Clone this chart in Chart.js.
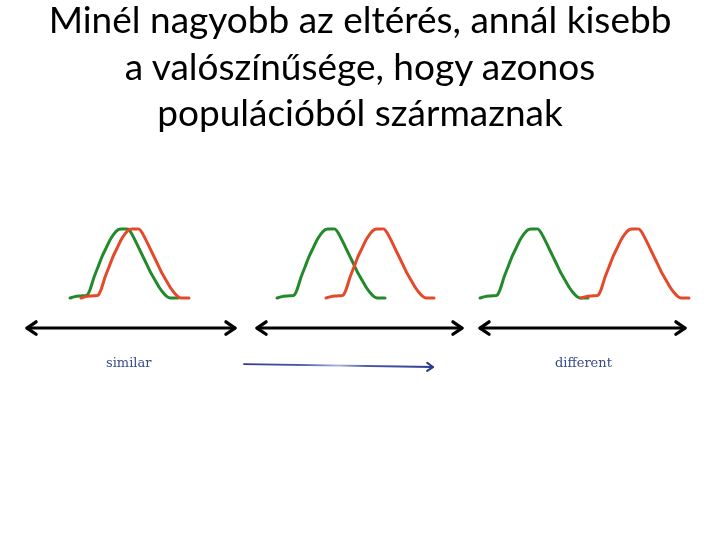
<!DOCTYPE html>
<html><head><meta charset="utf-8">
<script src="https://cdn.jsdelivr.net/npm/chart.js@4"></script>
<style>
html,body{margin:0;padding:0;background:#fff;}
#wrap{position:relative;width:720px;height:540px;overflow:hidden;background:#fff}
#title{position:absolute;left:0;top:-4px;width:720px;text-align:center;font-family:Lato,'Open Sans',sans-serif;font-size:37px;line-height:46.5px;color:#000;z-index:2}
#chart{position:absolute;left:0;top:0}
.lbl{position:absolute;font-family:'DejaVu Serif',serif;font-size:13px;line-height:15px;color:#3b4a8c;z-index:2;white-space:nowrap}
</style></head>
<body><div id="wrap">
<div id="title">Minél nagyobb az eltérés, annál kisebb<br>a valószínűsége, hogy azonos<br>populációból származnak</div>
<canvas id="chart" width="720" height="540"></canvas>
<div class="lbl" style="left:106px;top:355px">similar</div>
<div class="lbl" style="left:555px;top:355px">different</div>
</div>
<script>
// Bell-shaped hand-drawn profile (relative x, height 0..1)
const profileX = [0,5,11,17,20,24,28,32,36,40,44,48,51,54,58,61,65,69,73,77,81,85,89,93,97,100,104,108];
const profileY = [0,0.02,0.03,0.04,0.12,0.3,0.45,0.6,0.72,0.84,0.93,0.99,1,1,1,0.95,0.84,0.72,0.6,0.48,0.36,0.26,0.16,0.08,0.02,0,0,0];
// start positions of each distribution (panel: similar, overlapping, different)
const greenStarts = [70, 277, 480];
const redStarts = [81, 326, 581];
// double-headed axis arrows under each panel
const axisFrom = [27, 257, 480];
const axisTo = [235, 462, 685];
const axisLevel = -0.435;
// blue direction arrow
const blueFrom = [244, -0.957];
const blueTo = [433, -1.0];

const GREEN = '#238a2c';
const RED = '#e5492b';

function curve(start){
  return profileX.map((x,i)=>({x:start+x, y:profileY[i]}));
}
const datasets = [];
redStarts.forEach(s=>datasets.push({data:curve(s),borderColor:RED,borderWidth:3,pointRadius:0,tension:0.15,showLine:true,fill:false}));
greenStarts.forEach(s=>datasets.push({data:curve(s),borderColor:GREEN,borderWidth:3,pointRadius:0,tension:0.15,showLine:true,fill:false}));
axisFrom.forEach((f,i)=>datasets.push({data:[{x:f,y:axisLevel},{x:axisTo[i],y:axisLevel}],borderColor:'#000',borderWidth:3,pointRadius:0,showLine:true,arrowStart:true,arrowEnd:true,headLen:11,headColor:'#000'}));
datasets.push({data:[{x:blueFrom[0],y:blueFrom[1]},{x:blueTo[0],y:blueTo[1]}],
  borderColor:(ctx)=>{const c=ctx.chart; if(!c.chartArea) return '#3344a0';
    const xs=c.scales.x; const g=c.ctx.createLinearGradient(xs.getPixelForValue(blueFrom[0]),0,xs.getPixelForValue(blueTo[0]),0);
    g.addColorStop(0,'#2c3a94');g.addColorStop(0.3,'#4a58a8');g.addColorStop(0.5,'#a9b2da');g.addColorStop(0.65,'#4a58a8');g.addColorStop(1,'#2c3a94');return g;},
  borderWidth:1.8,pointRadius:0,showLine:true,arrowEnd:true,headLen:7,headColor:'#2c3a94'});

const arrowPlugin = {id:'arrowheads', afterDatasetsDraw(chart){
  const ctx = chart.ctx;
  chart.data.datasets.forEach((ds,i)=>{
    if(!ds.arrowStart && !ds.arrowEnd) return;
    const pts = chart.getDatasetMeta(i).data;
    const L = ds.headLen, a = 0.6;
    const draw=(tip,prev)=>{
      const ang = Math.atan2(tip.y-prev.y, tip.x-prev.x);
      ctx.save(); ctx.strokeStyle=ds.headColor; ctx.lineWidth=ds.borderWidth+0.3; ctx.lineCap='round'; ctx.lineJoin='round';
      ctx.beginPath();
      ctx.moveTo(tip.x - L*Math.cos(ang-a), tip.y - L*Math.sin(ang-a));
      ctx.lineTo(tip.x, tip.y);
      ctx.lineTo(tip.x - L*Math.cos(ang+a), tip.y - L*Math.sin(ang+a));
      ctx.stroke(); ctx.restore();
    };
    if(ds.arrowEnd) draw(pts[pts.length-1], pts[pts.length-2]);
    if(ds.arrowStart) draw(pts[0], pts[1]);
  });
}};

new Chart(document.getElementById('chart'), {
  type:'scatter',
  data:{datasets},
  options:{
    responsive:false, animation:false,
    layout:{padding:0},
    plugins:{legend:{display:false},tooltip:{enabled:false},title:{display:false}},
    scales:{
      x:{type:'linear',min:0,max:720,display:false},
      y:{type:'linear',min:-3.507,max:4.319,display:false}
    },
    elements:{line:{borderCapStyle:'round',borderJoinStyle:'round'}}
  },
  plugins:[arrowPlugin]
});
</script>
</body></html>
